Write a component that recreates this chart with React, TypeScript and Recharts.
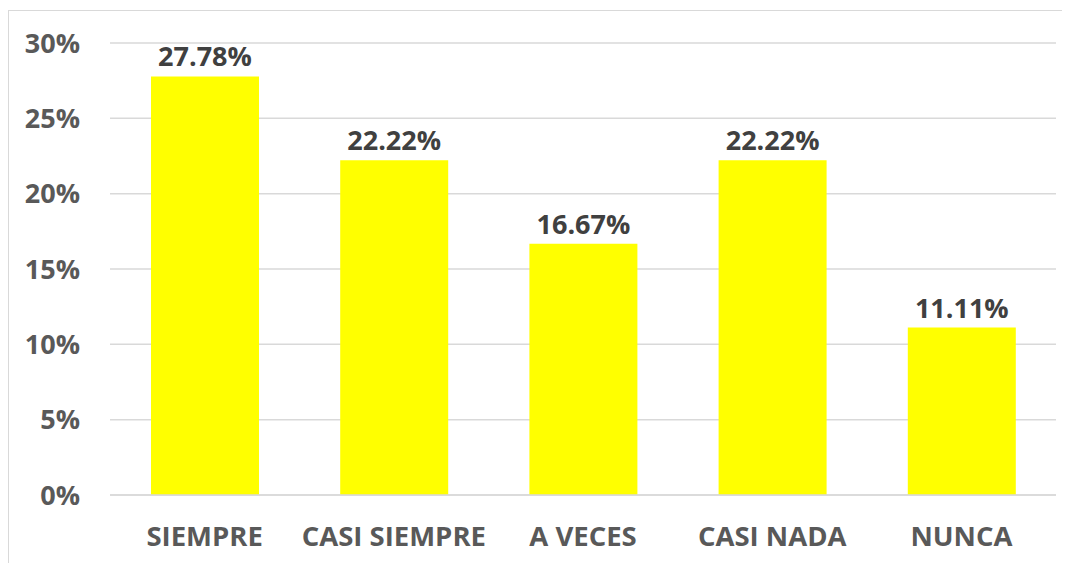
import { BarChart, Bar, XAxis, YAxis, CartesianGrid, LabelList } from 'recharts';

const CATEGORIES = ['SIEMPRE', 'CASI SIEMPRE', 'A VECES', 'CASI NADA', 'NUNCA'];
const SHARES = [0.2778, 0.2222, 0.1667, 0.2222, 0.1111];
const Y_TICKS = [0, 0.05, 0.1, 0.15, 0.2, 0.25, 0.3];

const data = CATEGORIES.map((name, i) => ({ name, share: SHARES[i] }));

const FONT = '"Open Sans", "Noto Sans", sans-serif';
const pct0 = (v: number) => `${Math.round(v * 100)}%`;
const pct2 = (v: unknown) => `${(Number(v) * 100).toFixed(2)}%`;

export default function App() {
  return (
    <div
      style={{
        position: 'relative',
        top: 2,
        width: 1070,
        height: 560,
        borderLeft: '1px solid #d9d9d9',
        borderTop: '1px solid #d9d9d9',
        boxSizing: 'border-box',
        background: '#fff',
      }}
    >
      <style>{'body{overflow:hidden}'}</style>
      <BarChart
        width={1069}
        height={559}
        data={data}
        margin={{ top: 32, right: 22, left: 0, bottom: 16 }}
        style={{ fontFamily: FONT }}
      >
        <CartesianGrid vertical={false} stroke="#d9d9d9" strokeWidth={1.5} />
        <XAxis
          dataKey="name"
          height={59}
          tickSize={0}
          tickMargin={31}
          axisLine={{ stroke: '#d9d9d9', strokeWidth: 1.5 }}
          tickLine={false}
          tick={{ fontSize: 27.5, fontWeight: 700, fill: '#595959', fontFamily: FONT }}
        />
        <YAxis
          width={101}
          domain={[0, 0.3]}
          ticks={Y_TICKS}
          tickFormatter={pct0}
          tickSize={0}
          tickMargin={30}
          axisLine={false}
          tickLine={false}
          tick={{ fontSize: 27, fontWeight: 700, fill: '#595959', fontFamily: FONT }}
        />
        <Bar dataKey="share" fill="#ffff00" barSize={108} isAnimationActive={false}>
          <LabelList
            dataKey="share"
            position="top"
            offset={10}
            formatter={pct2}
            style={{ fontSize: 27, fontWeight: 700, fill: '#404040', fontFamily: FONT }}
          />
        </Bar>
      </BarChart>
    </div>
  );
}
